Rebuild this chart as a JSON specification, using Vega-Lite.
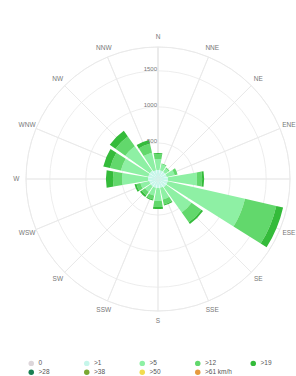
{
  "$schema": "https://vega.github.io/schema/vega-lite/v6.json",
  "width": 276,
  "height": 358,
  "autosize": "none",
  "padding": {"left": 20, "top": 0, "right": 0, "bottom": 18},
  "background": "white",
  "config": {"view": {"stroke": null}, "font": "Liberation Sans"},
  "datasets": {
    "dirs": [
      {"dir": "N"}, {"dir": "NNE"}, {"dir": "NE"}, {"dir": "ENE"},
      {"dir": "E"}, {"dir": "ESE"}, {"dir": "SE"}, {"dir": "SSE"},
      {"dir": "S"}, {"dir": "SSW"}, {"dir": "SW"}, {"dir": "WSW"},
      {"dir": "W"}, {"dir": "WNW"}, {"dir": "NW"}, {"dir": "NNW"}
    ],
    "rings": [{"r": 500}, {"r": 1000}, {"r": 1500}, {"r": 1830}],
    "ticks": [{"r": 500}, {"r": 1000}, {"r": 1500}],
    "rose": [
      {"dir": "N", "speed": ">1", "k": 1, "freq": 125},
      {"dir": "N", "speed": ">5", "k": 2, "freq": 153},
      {"dir": "N", "speed": ">12", "k": 3, "freq": 70},
      {"dir": "N", "speed": ">19", "k": 4, "freq": 14},
      {"dir": "NNE", "speed": ">1", "k": 1, "freq": 125},
      {"dir": "NNE", "speed": ">5", "k": 2, "freq": 83},
      {"dir": "NNE", "speed": ">12", "k": 3, "freq": 14},
      {"dir": "NNE", "speed": ">19", "k": 4, "freq": 0},
      {"dir": "NE", "speed": ">1", "k": 1, "freq": 125},
      {"dir": "NE", "speed": ">5", "k": 2, "freq": 56},
      {"dir": "NE", "speed": ">12", "k": 3, "freq": 14},
      {"dir": "NE", "speed": ">19", "k": 4, "freq": 0},
      {"dir": "ENE", "speed": ">1", "k": 1, "freq": 125},
      {"dir": "ENE", "speed": ">5", "k": 2, "freq": 111},
      {"dir": "ENE", "speed": ">12", "k": 3, "freq": 42},
      {"dir": "ENE", "speed": ">19", "k": 4, "freq": 0},
      {"dir": "E", "speed": ">1", "k": 1, "freq": 139},
      {"dir": "E", "speed": ">5", "k": 2, "freq": 403},
      {"dir": "E", "speed": ">12", "k": 3, "freq": 70},
      {"dir": "E", "speed": ">19", "k": 4, "freq": 28},
      {"dir": "ESE", "speed": ">1", "k": 1, "freq": 139},
      {"dir": "ESE", "speed": ">5", "k": 2, "freq": 1098},
      {"dir": "ESE", "speed": ">12", "k": 3, "freq": 445},
      {"dir": "ESE", "speed": ">19", "k": 4, "freq": 97},
      {"dir": "SE", "speed": ">1", "k": 1, "freq": 139},
      {"dir": "SE", "speed": ">5", "k": 2, "freq": 431},
      {"dir": "SE", "speed": ">12", "k": 3, "freq": 167},
      {"dir": "SE", "speed": ">19", "k": 4, "freq": 28},
      {"dir": "SSE", "speed": ">1", "k": 1, "freq": 125},
      {"dir": "SSE", "speed": ">5", "k": 2, "freq": 167},
      {"dir": "SSE", "speed": ">12", "k": 3, "freq": 70},
      {"dir": "SSE", "speed": ">19", "k": 4, "freq": 14},
      {"dir": "S", "speed": ">1", "k": 1, "freq": 125},
      {"dir": "S", "speed": ">5", "k": 2, "freq": 181},
      {"dir": "S", "speed": ">12", "k": 3, "freq": 83},
      {"dir": "S", "speed": ">19", "k": 4, "freq": 28},
      {"dir": "SSW", "speed": ">1", "k": 1, "freq": 125},
      {"dir": "SSW", "speed": ">5", "k": 2, "freq": 111},
      {"dir": "SSW", "speed": ">12", "k": 3, "freq": 56},
      {"dir": "SSW", "speed": ">19", "k": 4, "freq": 14},
      {"dir": "SW", "speed": ">1", "k": 1, "freq": 125},
      {"dir": "SW", "speed": ">5", "k": 2, "freq": 97},
      {"dir": "SW", "speed": ">12", "k": 3, "freq": 56},
      {"dir": "SW", "speed": ">19", "k": 4, "freq": 28},
      {"dir": "WSW", "speed": ">1", "k": 1, "freq": 125},
      {"dir": "WSW", "speed": ">5", "k": 2, "freq": 125},
      {"dir": "WSW", "speed": ">12", "k": 3, "freq": 56},
      {"dir": "WSW", "speed": ">19", "k": 4, "freq": 28},
      {"dir": "W", "speed": ">1", "k": 1, "freq": 139},
      {"dir": "W", "speed": ">5", "k": 2, "freq": 361},
      {"dir": "W", "speed": ">12", "k": 3, "freq": 125},
      {"dir": "W", "speed": ">19", "k": 4, "freq": 97},
      {"dir": "WNW", "speed": ">1", "k": 1, "freq": 139},
      {"dir": "WNW", "speed": ">5", "k": 2, "freq": 389},
      {"dir": "WNW", "speed": ">12", "k": 3, "freq": 153},
      {"dir": "WNW", "speed": ">19", "k": 4, "freq": 97},
      {"dir": "NW", "speed": ">1", "k": 1, "freq": 139},
      {"dir": "NW", "speed": ">5", "k": 2, "freq": 417},
      {"dir": "NW", "speed": ">12", "k": 3, "freq": 167},
      {"dir": "NW", "speed": ">19", "k": 4, "freq": 97},
      {"dir": "NNW", "speed": ">1", "k": 1, "freq": 125},
      {"dir": "NNW", "speed": ">5", "k": 2, "freq": 250},
      {"dir": "NNW", "speed": ">12", "k": 3, "freq": 125},
      {"dir": "NNW", "speed": ">19", "k": 4, "freq": 56}
    ]
  },
  "layer": [
    {
      "data": {"name": "dirs"},
      "mark": {"type": "arc", "filled": false, "stroke": "#e8e8e8", "strokeWidth": 0.8},
      "encoding": {
        "theta": {"field": "dir", "type": "nominal",
          "scale": {"type": "band", "domain": ["N","NNE","NE","ENE","E","ESE","SE","SSE","S","SSW","SW","WSW","W","WNW","NW","NNW"], "range": [0, 6.283185], "paddingInner": 0, "paddingOuter": 0}},
        "radius": {"datum": 1830, "type": "quantitative", "scale": {"domain": [0, 1830], "range": [0, 132], "zero": true}}
      }
    },
    {
      "data": {"name": "rings"},
      "mark": {"type": "arc", "theta": 0, "theta2": 6.283185, "filled": false, "stroke": "#e8e8e8", "strokeWidth": 0.8},
      "encoding": {
        "radius": {"field": "r", "type": "quantitative", "stack": null}
      }
    },
    {
      "data": {"name": "rose"},
      "mark": {"type": "arc"},
      "encoding": {
        "theta": {"field": "dir", "type": "nominal",
          "scale": {"type": "band", "domain": ["N","NNE","NE","ENE","E","ESE","SE","SSE","S","SSW","SW","WSW","W","WNW","NW","NNW"], "range": [-0.19635, 6.08684], "paddingInner": 0.14, "paddingOuter": 0.07}},
        "radius": {"field": "freq", "type": "quantitative", "stack": true},
        "color": {"field": "speed", "type": "nominal",
          "scale": {"domain": ["0", ">1", ">5", ">12", ">19", ">28", ">38", ">50", ">61 km/h"],
                    "range": ["#ddd6da", "#c6f6ea", "#8ef0a4", "#62d86c", "#34bb3a", "#1a7f52", "#7aa832", "#f2dc4e", "#e69a3e"]},
          "legend": {"orient": "none", "legendX": 8, "legendY": 360, "direction": "horizontal", "columns": 5, "title": null,
                     "symbolType": "circle", "symbolSize": 30, "symbolStrokeWidth": 0, "labelFontSize": 6.5, "labelColor": "#555",
                     "gridAlign": "all", "columnPadding": 17.5, "rowPadding": 2, "labelOffset": 4}},
        "order": {"field": "k"}
      }
    },
    {
      "data": {"name": "dirs"},
      "mark": {"type": "text", "fontSize": 6.5, "fill": "#777", "baseline": "middle", "align": "center"},
      "encoding": {
        "theta": {"field": "dir", "type": "nominal",
          "scale": {"type": "point", "domain": ["N","NNE","NE","ENE","E","ESE","SE","SSE","S","SSW","SW","WSW","W","WNW","NW","NNW"], "range": [0, 5.890486], "padding": 0}},
        "radius": {"datum": 1965, "type": "quantitative"},
        "text": {"field": "dir"}
      }
    },
    {
      "data": {"name": "ticks"},
      "mark": {"type": "text", "theta": 0, "fontSize": 6, "fill": "#777", "baseline": "middle", "align": "right", "dx": -1, "dy": -2},
      "encoding": {
        "radius": {"field": "r", "type": "quantitative"},
        "text": {"field": "r", "type": "quantitative", "format": "d"}
      }
    }
  ],
  "resolve": {"scale": {"theta": "independent"}}
}
